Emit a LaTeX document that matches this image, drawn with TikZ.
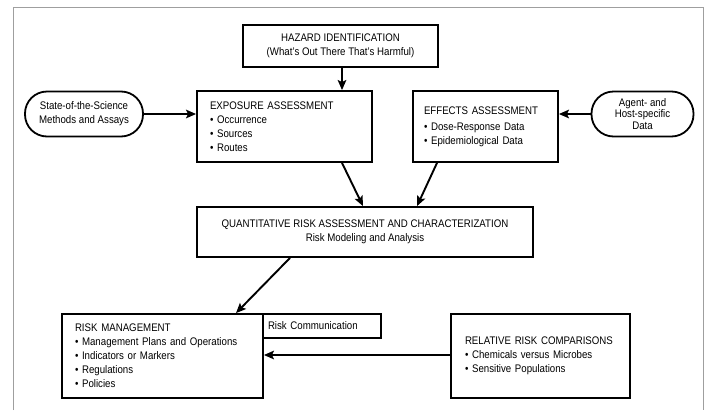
\documentclass[tikz,border=0pt]{standalone}
\usepackage{fontspec}
\setmainfont{Liberation Sans}[FakeStretch=0.88]
\usetikzlibrary{arrows.meta}
\begin{document}
\begin{tikzpicture}[x=1pt,y=-1pt,
  font=\fontsize{11}{14}\selectfont,
  box/.style={draw, line width=1.8pt, inner sep=0pt, align=center},
  lbox/.style={draw, line width=1.8pt, inner ysep=0pt, align=left,
    execute at begin node={\hyphenpenalty=10000\exhyphenpenalty=10000}},
  pill/.style={draw, line width=1.8pt, inner sep=0pt, align=center, rounded corners=22pt},
  arr/.style={line width=1.9pt, -{Stealth[length=10pt,width=8.5pt,inset=2pt]}},
  frame/.style={draw=gray!75, line width=0.9pt}]
\useasboundingbox (0,0) rectangle (709,410);
\draw[frame] (13,410) -- (13,7) -- (703,7) -- (703,410);

\node[box, minimum width=195pt, minimum height=42pt] (haz) at (340.5,46)
  {HAZARD IDENTIFICATION\\(What’s Out There That’s Harmful)};
\node[pill, minimum width=118pt, minimum height=45pt] (sci) at (84,114)
  {State-of-the-Science\\Methods and Assays};
\node[pill, minimum width=102pt, minimum height=45pt, font=\fontsize{11}{11.5}\selectfont] (agent) at (642.5,114)
  {Agent- and\\Host-specific\\Data};
\node[lbox, inner xsep=13pt, text width=149pt, minimum height=71pt] (exp) at (284.5,126.5)
  {EXPOSURE ASSESSMENT\\• Occurrence\\• Sources\\• Routes};
\node[lbox, inner xsep=11pt, text width=123pt, minimum height=71pt] (eff) at (485.5,126.5)
  {EFFECTS ASSESSMENT\\[2pt]• Dose-Response Data\\• Epidemiological Data\\[6pt]};
\node[box, minimum width=336pt, minimum height=50pt] (qra) at (365,232)
  {QUANTITATIVE RISK ASSESSMENT AND CHARACTERIZATION\\Risk Modeling and Analysis};
\node[lbox, inner xsep=13pt, text width=175pt, minimum height=84pt] (rm) at (162.5,356)
  {RISK MANAGEMENT\\• Management Plans and Operations\\• Indicators or Markers\\• Regulations\\• Policies};
\node[lbox, inner xsep=5pt, text width=108pt, minimum height=24pt] (rc) at (322,326)
  {Risk Communication};
\node[lbox, inner xsep=14pt, text width=151pt, minimum height=84pt] (rrc) at (540.5,356)
  {RELATIVE RISK COMPARISONS\\• Chemicals versus Microbes\\• Sensitive Populations};

\draw[arr] ([xshift=1.5pt]haz.south) -- ([xshift=1.5pt]haz.south |- exp.north);
\draw[arr] (sci.east) -- (sci.east -| exp.west);
\draw[arr] (agent.west) -- (agent.west -| eff.east);
\draw[arr] ([xshift=57.5pt]exp.south) -- ([xshift=-2pt]qra.north);
\draw[arr] ([xshift=-48.5pt]eff.south) -- ([xshift=52pt]qra.north);
\draw[arr] ([xshift=-75pt]qra.south) -- ([xshift=73.5pt]rm.north);
\draw[arr] ([yshift=1pt]rrc.west) -- ([yshift=1pt]rrc.west -| rm.east);
\end{tikzpicture}
\end{document}
